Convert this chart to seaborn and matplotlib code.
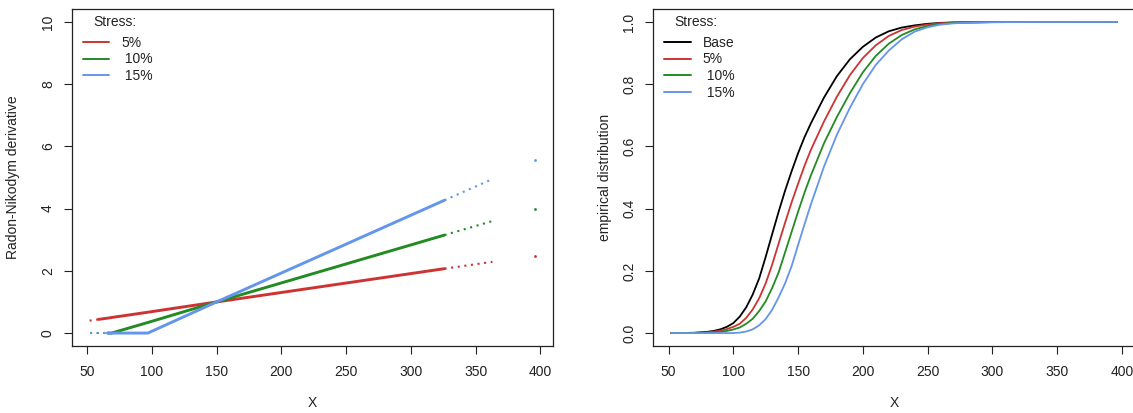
import matplotlib
matplotlib.use("Agg")
import matplotlib.pyplot as plt
import pandas as pd
import seaborn as sns
from matplotlib.lines import Line2D

# ---- Radon-Nikodym derivative of each mean stress, read at breakpoints of X
rn_x = [52, 59, 66, 69, 97, 150, 326, 363, 396]
rn_5 = [0.40, 0.44, 0.48, 0.50, 0.67, 1.00, 2.07, 2.29, 2.49]
rn_10 = [0.00, 0.00, 0.00, 0.00, 0.34, 1.00, 3.15, 3.60, 4.00]
rn_15 = [0.00, 0.00, 0.00, 0.00, 0.00, 1.00, 4.27, 4.95, 5.57]

# ---- empirical distribution functions, base and stressed
cdf_x = [52, 60, 70, 80, 85, 90, 95, 100, 105, 110, 115, 120, 125, 130, 135,
         140, 145, 150, 155, 160, 170, 180, 190, 200, 210, 220, 230, 240,
         250, 260, 270, 280, 300, 330, 396]
cdf_base = [0.0, 0.0002, 0.001, 0.004, 0.007, 0.012, 0.020, 0.032, 0.053,
            0.083, 0.124, 0.176, 0.245, 0.318, 0.390, 0.458, 0.520, 0.578,
            0.630, 0.675, 0.757, 0.826, 0.880, 0.920, 0.950, 0.970, 0.982,
            0.989, 0.994, 0.997, 0.9985, 0.999, 0.9997, 0.9999, 1.0]
cdf_5 = [0.0, 0.0001, 0.0006, 0.0025, 0.0045, 0.0078, 0.0128, 0.020, 0.030,
         0.049, 0.076, 0.112, 0.160, 0.220, 0.288, 0.355, 0.420, 0.480,
         0.538, 0.590, 0.680, 0.760, 0.829, 0.884, 0.925, 0.955, 0.974,
         0.985, 0.9915, 0.996, 0.998, 0.9985, 0.9995, 0.9998, 1.0]
cdf_10 = [0.0, 0.0001, 0.0003, 0.001, 0.002, 0.004, 0.007, 0.0115, 0.018,
          0.030, 0.046, 0.071, 0.102, 0.145, 0.195, 0.260, 0.325, 0.390,
          0.452, 0.508, 0.610, 0.695, 0.771, 0.838, 0.891, 0.930, 0.958,
          0.976, 0.987, 0.9935, 0.997, 0.998, 0.9993, 0.9998, 1.0]
cdf_15 = [0.0, 0.0, 0.0, 0.0, 0.0, 0.0, 0.0, 0.0, 0.0015,
          0.005, 0.012, 0.025, 0.045, 0.075, 0.115, 0.160, 0.215, 0.283,
          0.350, 0.415, 0.535, 0.638, 0.724, 0.800, 0.862, 0.908, 0.944,
          0.969, 0.983, 0.9915, 0.9955, 0.9975, 0.9992, 0.9997, 1.0]

stress_labels = ["5%", " 10%", " 15%"]
base_label = "Base"
x_ticks = [50, 100, 150, 200, 250, 300, 350, 400]
rn_ticks = [0, 2, 4, 6, 8, 10]
cdf_ticks = [0.0, 0.2, 0.4, 0.6, 0.8, 1.0]

colors = {"Base": "black", "5%": "#CD3333", " 10%": "#228B22", " 15%": "#6495ED"}

# observations are dense between these X values, sparse outside
dense_from = {"5%": 59, " 10%": 66, " 15%": 66}
dense_to = 326
tail_to = 363

sns.set_style("ticks")
plt.rcParams["font.family"] = ["Liberation Sans", "DejaVu Sans"]
FS = 10.0
INK = "#222222"

rn = pd.DataFrame({
    "x": rn_x * 3,
    "rn": rn_5 + rn_10 + rn_15,
    "stress": sum([[s] * len(rn_x) for s in stress_labels], []),
})
cdf = pd.DataFrame({
    "x": cdf_x * 4,
    "F": cdf_base + cdf_5 + cdf_10 + cdf_15,
    "stress": sum([[s] * len(cdf_x) for s in [base_label] + stress_labels], []),
})

fig = plt.figure(figsize=(11.33, 4.13), dpi=100)
ax1 = fig.add_axes([0.0633, 0.1634, 0.4248, 0.8136])
ax2 = fig.add_axes([0.5766, 0.1634, 0.4248, 0.8136])

# ---- left panel: Radon-Nikodym derivative
for s in stress_labels:
    d = rn[rn["stress"] == s]
    lo = dense_from[s]
    head = d[d["x"] <= lo]
    body = d[(d["x"] >= lo) & (d["x"] <= dense_to)]
    tail = d[(d["x"] >= dense_to) & (d["x"] <= tail_to)]
    far = d[d["x"] > tail_to]
    c = colors[s]
    sns.lineplot(data=head, x="x", y="rn", color=c, lw=1.5, ls=(0, (1, 2.2)),
                 estimator=None, sort=True, ax=ax1)
    sns.lineplot(data=body, x="x", y="rn", color=c, lw=2.1,
                 estimator=None, sort=True, ax=ax1)
    sns.lineplot(data=tail, x="x", y="rn", color=c, lw=1.5, ls=(0, (1, 2.2)),
                 estimator=None, sort=True, ax=ax1)
    sns.scatterplot(data=far, x="x", y="rn", color=c, s=4, linewidth=0, ax=ax1)

# ---- right panel: empirical distribution functions
sns.lineplot(data=cdf, x="x", y="F", hue="stress",
             hue_order=[base_label] + stress_labels, palette=colors,
             lw=1.3, estimator=None, sort=True, legend=False, ax=ax2)


def style_axes(ax, yticks, ylims, ytick_fmt, ylabel, ylabel_x):
    ax.set_xlim(38.24, 409.76)
    ax.set_ylim(*ylims)
    ax.set_xticks(x_ticks)
    ax.set_xticklabels([str(v) for v in x_ticks], fontsize=FS)
    ax.set_yticks(yticks)
    ax.set_yticklabels([ytick_fmt(v) for v in yticks], fontsize=FS,
                       rotation=90, va="center")
    ax.tick_params(axis="both", direction="out", length=6.1, width=0.8,
                   color=INK, labelcolor=INK)
    ax.tick_params(axis="x", pad=7.8)
    ax.tick_params(axis="y", pad=6.0)
    for sp in ax.spines.values():
        sp.set_visible(True)
        sp.set_linewidth(0.9)
        sp.set_color(INK)
    ax.set_xlabel("X", fontsize=FS, color=INK)
    ax.set_ylabel(ylabel, fontsize=FS, color=INK)
    ax.xaxis.set_label_coords(0.5, -0.171)
    ax.xaxis.label.set_va("center")
    ax.yaxis.set_label_coords(ylabel_x, 0.5)
    ax.yaxis.label.set_va("center")
    ax.grid(False)


style_axes(ax1, rn_ticks, (-0.4, 10.4), lambda v: f"{v:d}",
           "Radon-Nikodym derivative", -0.122)
style_axes(ax2, cdf_ticks, (-0.04, 1.04), lambda v: f"{v:.1f}",
           "empirical distribution", -0.0995)


def add_legend(ax, labels):
    handles = [Line2D([0], [0], color=colors[l], lw=1.4) for l in labels]
    ax.text(0.0445, 0.9625, "Stress:", transform=ax.transAxes,
            ha="left", va="center", fontsize=FS, color=INK)
    ax.legend(handles, labels, loc="upper left", bbox_to_anchor=(0.0229, 0.922),
              borderaxespad=0, borderpad=0, frameon=False, fontsize=FS,
              handlelength=1.9, handletextpad=0.87, labelspacing=0.2,
              labelcolor=INK)


add_legend(ax1, stress_labels)
add_legend(ax2, [base_label] + stress_labels)

fig.savefig("out.png", dpi=100)
